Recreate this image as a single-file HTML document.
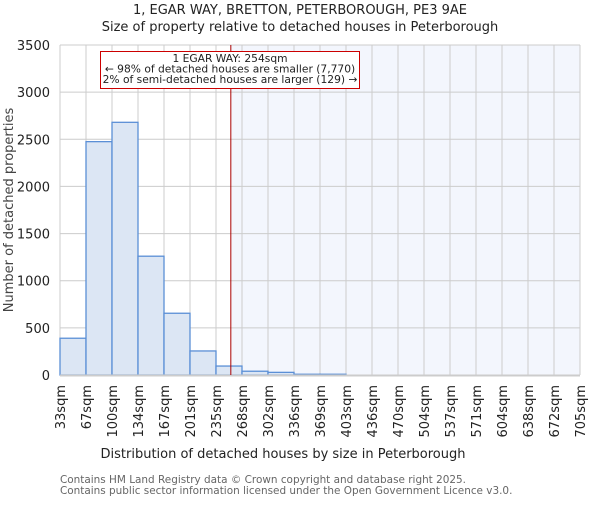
<!DOCTYPE html>
<html><head><meta charset="utf-8"><style>
body{margin:0;background:#fff;width:600px;height:500px;overflow:hidden}
svg{font-family:"DejaVu Sans","Liberation Sans",sans-serif}
</style></head><body>
<svg id="chart" width="600" height="500" xmlns="http://www.w3.org/2000/svg">
<text x="300" y="14" text-anchor="middle" font-size="13" fill="#222">1, EGAR WAY, BRETTON, PETERBOROUGH, PE3 9AE</text>
<text x="300" y="31" text-anchor="middle" font-size="13" fill="#222">Size of property relative to detached houses in Peterborough</text>
<g id="plot"></g>
<text x="283" y="458" text-anchor="middle" font-size="13" fill="#222">Distribution of detached houses by size in Peterborough</text>
<text transform="translate(13,210) rotate(-90)" text-anchor="middle" font-size="13" fill="#444">Number of detached properties</text>
<text x="60" y="483" font-size="10.45" fill="#666">Contains HM Land Registry data © Crown copyright and database right 2025.</text>
<text x="60" y="494" font-size="10.45" fill="#666">Contains public sector information licensed under the Open Government Licence v3.0.</text>
</svg>
<script>
const binLabels=["33sqm","67sqm","100sqm","134sqm","167sqm","201sqm","235sqm","268sqm","302sqm","336sqm","369sqm","403sqm","436sqm","470sqm","504sqm","537sqm","571sqm","604sqm","638sqm","672sqm","705sqm"];
const counts=[390,2475,2680,1260,655,255,95,40,28,8,8,0,0,0,0,0,0,0,0,0];
const yTicks=[0,500,1000,1500,2000,2500,3000,3500];
const markerIndex=6.57;
const NS="http://www.w3.org/2000/svg";
const L=60,R=580,T=45,B=375,yMax=3500;
const xs=i=>L+i*(R-L)/counts.length;
const ys=v=>B-v/yMax*(B-T);
const g=document.getElementById('plot');
function mk(tag,a){const e=document.createElementNS(NS,tag);for(const k in a)e.setAttribute(k,a[k]);g.appendChild(e);return e;}
const mx=xs(markerIndex);
let e=mk('rect',{x:mx,y:T,width:R-mx,height:B-T,fill:'#f3f6fd'});


yTicks.forEach(t=>{
 let l=mk('line',{x1:L,x2:R,y1:ys(t),y2:ys(t),stroke:'#ccc','stroke-width':1});
 
 
 let tx=mk('text',{x:L-10,y:ys(t)+5,'text-anchor':'end','font-size':13,fill:'#222'});
 tx.textContent=t;
 
 
});
binLabels.forEach((lab,i)=>{
 let l=mk('line',{x1:xs(i),x2:xs(i),y1:T,y2:B,stroke:'#ccc','stroke-width':1});
 
 
 let tx=mk('text',{transform:`translate(${xs(i)+5},385) rotate(-90)`,'text-anchor':'end','font-size':13,fill:'#222'});
 tx.textContent=lab;
 
 
});
counts.forEach((c,i)=>{
 if(c<=0)return;
 let r=mk('rect',{x:xs(i),y:ys(c),width:xs(i+1)-xs(i),height:B-ys(c),fill:'#dce6f4',stroke:'#5b8fd6','stroke-width':1.3});
 
 
});
let ax=mk('line',{x1:L,x2:R,y1:B+0.5,y2:B+0.5,stroke:'#ccc','stroke-width':2});


let ml=mk('line',{x1:mx,x2:mx,y1:T,y2:B,stroke:'#a00','stroke-width':1});


let box=mk('rect',{x:100.5,y:51.5,width:259,height:37,fill:'#fff',stroke:'#c00','stroke-width':1});


["1 EGAR WAY: 254sqm","← 98% of detached houses are smaller (7,770)","2% of semi-detached houses are larger (129) →"].forEach((s,i)=>{
 let t=mk('text',{x:230,y:62+i*10.5,'text-anchor':'middle','font-size':10.7,fill:'#222'});
 t.textContent=s;
 
 
});
</script>
</body></html>
